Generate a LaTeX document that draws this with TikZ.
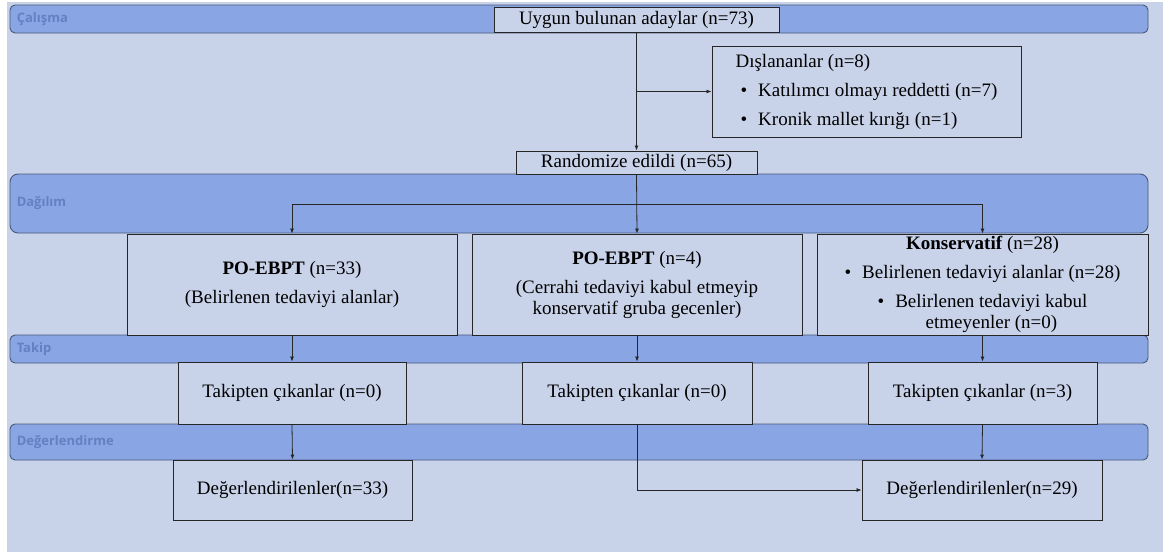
\documentclass[tikz,border=0pt]{standalone}
\usepackage{fontspec}
\setmainfont{Liberation Serif}
\newfontfamily\lanefont{Open Sans}
\usetikzlibrary{arrows.meta}
\definecolor{paper}{HTML}{C8D2E9}
\definecolor{lane}{HTML}{8AA5E3}
\definecolor{laneedge}{HTML}{46597A}
\definecolor{lanetext}{HTML}{6580C1}

\begin{document}
\begin{tikzpicture}[x=1pt,y=-1pt,>={Latex[length=5pt,width=4pt]},
  lane/.style={draw=laneedge,fill=lane,line width=0.9pt,rounded corners=5pt,
    minimum width=1138pt,inner sep=0pt},
  lanelabel/.style={anchor=west,text=lanetext,inner sep=0pt,
    font=\lanefont\bfseries\fontsize{13}{15}\selectfont},
  box/.style={draw=black!85,fill=paper,line width=0.9pt,inner sep=0pt,
    align=center,font=\fontsize{19}{21}\selectfont},
  link/.style={->,draw=black!85,line width=0.8pt}]
  \useasboundingbox (0,0) rectangle (1163,554);
  \fill[paper] (7,2) rectangle (1163,552);

  \node[lane,minimum height=28pt] (calisma) at (579,19) {};
  \node[lane,minimum height=59pt,rounded corners=8pt] (dagilim) at (579,203.5) {};
  \node[lane,minimum height=28pt] (takip) at (579,349) {};
  \node[lane,minimum height=36pt] (degerl) at (579,442) {};
  \node[lanelabel] (calismaL) at ([xshift=7pt]calisma.west) {Çalışma};
  \node[lanelabel] (dagilimL) at ([xshift=7pt]dagilim.west) {Dağılım};
  \node[lanelabel] (takipL) at ([xshift=7pt]takip.west) {Takip};
  \node[lanelabel] (degerlL) at ([xshift=7pt]degerl.west) {Değerlendirme};

  \node[box,minimum width=285pt,minimum height=25pt] (uygun) at (636.5,19.5)
    {Uygun bulunan adaylar (n=73)};
  \node[box,align=left,minimum width=309pt,minimum height=91pt] (disla) at (866.5,91.5)
    {Dışlananlar (n=8)\\[8pt]
     \hspace*{5pt}\textbullet\hspace{11pt}Katılımcı olmayı reddetti (n=7)\\[8pt]
     \hspace*{5pt}\textbullet\hspace{11pt}Kronik mallet kırığı (n=1)};
  \node[box,minimum width=241pt,minimum height=23pt] (random) at (636.5,162.5)
    {Randomize edildi (n=65)};

  \node[box,minimum width=330pt,minimum height=101pt] (po33) at (292,284.5)
    {\textbf{PO-EBPT} (n=33)\\[8pt](Belirlenen tedaviyi alanlar)};
  \node[box,minimum width=330pt,minimum height=101pt] (po4) at (637,284.5)
    {\textbf{PO-EBPT} (n=4)\\[8pt](Cerrahi tedaviyi kabul etmeyip\\konservatif gruba gecenler)};
  \node[box,minimum width=331pt,minimum height=101pt] (kons) at (982.5,284.5)
    {\textbf{Konservatif} (n=28)\\[8pt]
     \textbullet\hspace{11pt}Belirlenen tedaviyi alanlar (n=28)\\[8pt]
     \textbullet\hspace{11pt}Belirlenen tedaviyi kabul\\
     \hspace*{18pt}etmeyenler (n=0)};

  \node[box,minimum width=228pt,minimum height=62pt] (tak1) at (292,393)
    {Takipten çıkanlar (n=0)};
  \node[box,minimum width=230pt,minimum height=62pt] (tak2) at (637,393)
    {Takipten çıkanlar (n=0)};
  \node[box,minimum width=229pt,minimum height=62pt] (tak3) at (982.5,393)
    {Takipten çıkanlar (n=3)};

  \node[box,minimum width=239pt,minimum height=60pt] (deg1) at (292.5,490)
    {Değerlendirilenler(n=33)};
  \node[box,minimum width=240pt,minimum height=60pt] (deg2) at (982,490)
    {Değerlendirilenler(n=29)};

  \coordinate (split) at (637,204);
  \draw[link] (uygun.south) -- (random.north);
  \draw[link] (uygun.south |- disla.west) -- (disla.west);
  \draw[link] (random.south) -- (po4.north);
  \draw[link] (split) -| (po33.north);
  \draw[link] (split) -| (kons.north);
  \draw[link] (po33.south) -- (tak1.north);
  \draw[link] (po4.south) -- (tak2.north);
  \draw[link] (kons.south) -- (tak3.north);
  \draw[link] (tak1.south) -- (deg1.north);
  \draw[link] (tak3.south) -- (deg2.north);
  \draw[link] (tak2.south) |- (deg2.west);
\end{tikzpicture}
\end{document}
